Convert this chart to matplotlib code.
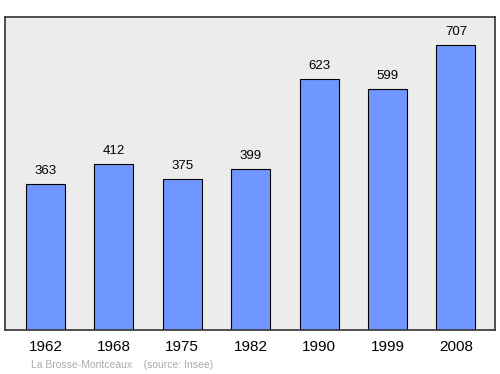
import matplotlib.pyplot as plt

plt.rcParams['font.family'] = ['Liberation Sans', 'DejaVu Sans']

years = ['1962', '1968', '1975', '1982', '1990', '1999', '2008']
population = [363, 412, 375, 399, 623, 599, 707]

fig = plt.figure(figsize=(5, 3.74), dpi=100)
ax = fig.add_axes([5 / 500, 1 - 330 / 374, 490 / 500, 313 / 374])
ax.set_facecolor('#ececec')

pos = list(range(len(years)))
ax.bar(pos, population, width=0.57, color='#7097ff', edgecolor='black', linewidth=0.8)
for x, v in zip(pos, population):
    ax.text(x, v + 17, str(v), ha='center', va='bottom', fontsize=9.5)

ax.set_xlim(-0.59, 6.57)
ax.set_ylim(0, 777)
ax.set_xticks(pos)
ax.set_xticklabels(years, fontsize=11)
ax.tick_params(axis='x', length=0, pad=7)
ax.set_yticks([])
for s in ax.spines.values():
    s.set_color('#333333')
    s.set_linewidth(1.2)

fig.text(31 / 500, 1 - 365 / 374, 'La Brosse-Montceaux    (source: Insee)',
         fontsize=7.5, color='#aaaaaa', va='center')

fig.savefig('out.png', dpi=100)
